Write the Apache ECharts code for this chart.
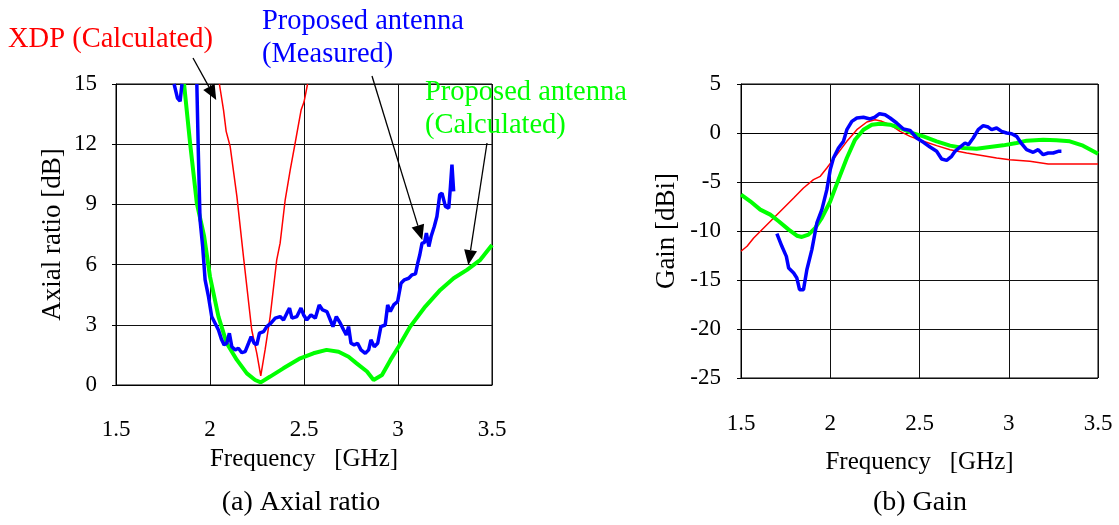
<!DOCTYPE html>
<html><head><meta charset="utf-8">
<script src="https://cdn.jsdelivr.net/npm/echarts@6/dist/echarts.min.js"></script>
<style>html,body{margin:0;padding:0;background:#fff}#c{width:1119px;height:525px}</style>
</head><body><div id="c"></div>
<script>
// ---- Axial ratio (a) ----
const arGreenFreq = [1.862,1.894,1.93,1.969,2.0,2.045,2.089,2.143,2.196,2.24,2.27,2.32,2.39,2.48,2.55,2.62,2.684,2.737,2.78,2.835,2.87,2.915,2.96,3.003,3.065,3.145,3.225,3.296,3.367,3.438,3.5];
const arGreenVal  = [15,12.06,9.06,7.4,5.4,3.41,2.08,1.25,0.58,0.25,0.13,0.42,0.83,1.33,1.58,1.75,1.66,1.41,1.08,0.67,0.25,0.5,1.25,1.91,2.91,3.91,4.74,5.32,5.74,6.24,6.98];
const arRedFreq = [2.05,2.072,2.086,2.107,2.143,2.178,2.222,2.249,2.27,2.293,2.32,2.355,2.373,2.4,2.427,2.453,2.485,2.5,2.519];
const arRedVal  = [15,13.7,12.64,11.9,9.4,6.4,2.74,1.58,0.45,1.75,3.41,6.24,7.07,9.23,10.73,12.06,13.72,14.1,15];
const arBlueFreq = [1.809,1.827,1.841,1.851,1.89,
 1.93,1.938,1.947,1.961,1.974,1.992,2.009,2.027,2.045,2.062,2.075,2.089,2.103,2.116,2.134,2.151,2.169,2.187,2.205,2.219,2.235,2.249,2.263,2.285,2.302,2.324,2.347,2.373,2.391,2.409,2.423,2.436,2.462,2.484,2.498,2.515,2.537,2.56,2.581,2.599,2.622,2.64,2.654,2.672,2.693,2.711,2.725,2.737,2.75,2.767,2.785,2.803,2.826,2.844,2.856,2.874,2.892,2.909,2.932,2.945,2.959,2.977,2.998,3.016,3.034,3.057,3.075,3.093,3.105,3.116,3.128,3.141,3.151,3.164,3.176,3.193,3.207,3.222,3.234,3.252,3.27,3.279,3.287,3.296];
const arBlueVal = [15,14.3,14.14,15,'-',
 15,11.56,8.23,6.9,5.24,4.4,3.41,3.08,2.74,2.25,2.0,2.08,2.58,1.91,1.75,1.83,1.61,1.66,2.08,2.41,2.08,2.0,2.58,2.66,2.91,3.08,3.33,3.41,3.24,3.58,3.83,3.33,3.41,3.83,3.49,3.24,3.49,3.33,3.99,3.74,3.66,3.24,2.91,3.41,3.08,2.74,2.49,2.91,2.08,2.0,2.08,1.75,1.58,1.75,2.25,1.91,2.08,2.91,2.99,3.99,3.66,3.99,4.16,5.07,5.24,5.32,5.49,5.54,6.07,6.49,7.07,7.1,7.57,6.9,7.4,7.9,8.4,9.48,9.56,8.9,8.81,9.9,10.98,9.65];

// ---- Gain (b) ----
const gRedFreq = [1.5,1.534,1.571,1.627,1.683,1.739,1.795,1.85,1.906,1.944,1.981,2.037,2.093,2.149,2.205,2.251,2.289,2.335,2.391,2.447,2.522,2.596,2.671,2.764,2.857,2.932,3.006,3.118,3.221,3.323,3.5];
const gRedVal  = [-12.07,-11.56,-10.71,-9.69,-8.67,-7.65,-6.63,-5.61,-4.76,-4.42,-3.57,-2.21,-0.85,0.34,1.12,1.36,1.19,0.85,0.17,-0.34,-0.85,-1.29,-1.7,-2.04,-2.31,-2.55,-2.72,-2.89,-3.16,-3.16,-3.16];
const gGreenFreq = [1.5,1.552,1.608,1.664,1.711,1.767,1.813,1.841,1.878,1.916,1.953,2.0,2.046,2.093,2.139,2.186,2.233,2.279,2.335,2.391,2.456,2.522,2.596,2.671,2.745,2.82,2.894,2.969,3.044,3.1,3.193,3.267,3.342,3.416,3.5];
const gGreenVal  = [-6.29,-6.97,-7.82,-8.33,-9.01,-9.86,-10.48,-10.61,-10.37,-9.69,-8.67,-6.97,-4.76,-2.55,-0.68,0.34,0.85,0.95,0.85,0.51,0.0,-0.34,-0.85,-1.29,-1.53,-1.6,-1.43,-1.26,-1.02,-0.78,-0.68,-0.75,-0.85,-1.29,-2.11];
const gBlueFreq = [1.701,1.729,1.754,1.767,1.795,1.813,1.828,1.85,1.869,1.897,1.925,1.953,1.981,2.0,2.018,2.046,2.074,2.093,2.121,2.149,2.186,2.223,2.251,2.276,2.307,2.335,2.372,2.41,2.447,2.484,2.522,2.559,2.596,2.624,2.652,2.68,2.699,2.727,2.755,2.774,2.801,2.829,2.857,2.885,2.904,2.932,2.96,2.988,3.016,3.044,3.072,3.1,3.137,3.165,3.193,3.221,3.249,3.277,3.295];
const gBlueVal  = [-10.27,-11.56,-12.59,-13.78,-14.29,-14.8,-15.99,-15.99,-13.95,-11.9,-9.18,-7.82,-5.78,-3.74,-2.55,-1.53,-0.85,0.34,1.19,1.53,1.6,1.43,1.63,1.97,1.87,1.53,1.02,0.41,0.27,-0.51,-0.95,-1.43,-1.87,-2.65,-2.79,-2.38,-1.87,-1.43,-1.02,-1.19,-0.51,0.34,0.75,0.61,0.34,0.51,0.17,0.0,-0.07,-0.34,-1.09,-1.7,-1.97,-1.7,-2.21,-2.04,-2.04,-1.87,-1.87];

const xTicks = [1.5, 2, 2.5, 3, 3.5];
const arTicks = [0, 15, 3];
const gainTicks = [-25, 5, 5];

const FONT = 'Liberation Serif';
const zip = (a, b) => a.map((v, i) => [v, b[i]]);
const RED = '#ff0000', GREEN = '#00ff00', BLUE = '#0000ff';

function xAxis(grid, margin, gap) {
  return {
    type: 'value', gridIndex: grid, min: xTicks[0], max: xTicks[xTicks.length - 1], interval: xTicks[1] - xTicks[0],
    name: 'Frequency   [GHz]', nameLocation: 'middle', nameGap: gap,
    nameTextStyle: { fontFamily: FONT, fontSize: 25, color: '#000' },
    axisLine: { show: true, lineStyle: { color: '#000', width: 1 } },
    axisTick: { show: false },
    axisLabel: { margin: margin, fontFamily: FONT, fontSize: 23, color: '#000' },
    splitLine: { show: true, lineStyle: { color: '#111', width: 1 } }
  };
}
function yAxis(grid, t, name, gap, margin) {
  return {
    type: 'value', gridIndex: grid, min: t[0], max: t[1], interval: t[2],
    name: name, nameLocation: 'middle', nameGap: gap, nameRotate: 90,
    nameTextStyle: { fontFamily: FONT, fontSize: 27, color: '#000' },
    axisLine: { show: true, lineStyle: { color: '#000', width: 1 } },
    axisTick: { show: true, length: 4, lineStyle: { color: '#000' } },
    axisLabel: { margin: margin, fontFamily: FONT, fontSize: 23, color: '#000' },
    splitLine: { show: true, lineStyle: { color: '#111', width: 1 } }
  };
}
function line(name, xi, yi, data, color, width) {
  return { name: name, type: 'line', xAxisIndex: xi, yAxisIndex: yi, data: data, symbol: 'none',
    showSymbol: false, connectNulls: false, clip: true, lineStyle: { color: color, width: width }, itemStyle: { color: color } };
}

const chart = echarts.init(document.getElementById('c'));
chart.setOption({
  animation: false,
  backgroundColor: '#fff',
  grid: [
    { left: 116, top: 84, width: 376, height: 301, show: true, borderColor: '#000', borderWidth: 1 },
    { left: 741, top: 84, width: 357, height: 294, show: true, borderColor: '#000', borderWidth: 1 }
  ],
  xAxis: [xAxis(0, 33, 62), xAxis(1, 34, 72)],
  yAxis: [yAxis(0, arTicks, 'Axial ratio [dB]', 50, 19), yAxis(1, gainTicks, 'Gain [dBi]', 61, 20)],
  series: [
    line('XDP (Calculated)', 0, 0, zip(arRedFreq, arRedVal), RED, 1.5),
    line('Proposed antenna (Calculated)', 0, 0, zip(arGreenFreq, arGreenVal), GREEN, 4),
    line('Proposed antenna (Measured)', 0, 0, zip(arBlueFreq, arBlueVal), BLUE, 3.5),
    line('XDP (Calculated)', 1, 1, zip(gRedFreq, gRedVal), RED, 1.5),
    line('Proposed antenna (Calculated)', 1, 1, zip(gGreenFreq, gGreenVal), GREEN, 4),
    line('Proposed antenna (Measured)', 1, 1, zip(gBlueFreq, gBlueVal), BLUE, 3.5)
  ]
});

function txt(x, y, s, color, size, align) {
  return { type: 'text', x: x, y: y, z: 100,
    style: { text: s, fill: color, fontFamily: FONT, fontSize: size, textAlign: align || 'left', textVerticalAlign: 'middle' } };
}
function arrow(sx, sy, tip) {
  const [tx, ty] = chart.convertToPixel({ gridIndex: 0 }, tip);
  const dx = tx - sx, dy = ty - sy, L = Math.hypot(dx, dy), ux = dx / L, uy = dy / L;
  const hl = 15, hw = 6.5;
  const bx = tx - ux * hl, by = ty - uy * hl;
  return [
    { type: 'line', z: 99, shape: { x1: sx, y1: sy, x2: bx, y2: by }, style: { stroke: '#000', lineWidth: 1.3 } },
    { type: 'polygon', z: 99, shape: { points: [[tx, ty], [bx - uy * hw, by + ux * hw], [bx + uy * hw, by - ux * hw]] }, style: { fill: '#000' } }
  ];
}

chart.setOption({
  graphic: [
    txt(8, 40, 'XDP (Calculated)', RED, 28.5),
    txt(262, 22, 'Proposed antenna', BLUE, 28.5),
    txt(262, 55, '(Measured)', BLUE, 28.5),
    txt(425, 93, 'Proposed antenna', GREEN, 28.5),
    txt(425, 126, '(Calculated)', GREEN, 28.5),
    txt(301, 503, '(a) Axial ratio', '#000', 28),
    txt(920, 503, '(b) Gain', '#000', 28, 'center'),
    ...arrow(193, 58, [2.033, 14.2]),
    ...arrow(372, 76, [3.129, 7.23]),
    ...arrow(487, 143, [3.374, 5.98])
  ].map(g => (g.type === 'text' && g.style.text === '(a) Axial ratio') ? (g.style.textAlign = 'center', g) : g)
});
</script></body></html>
